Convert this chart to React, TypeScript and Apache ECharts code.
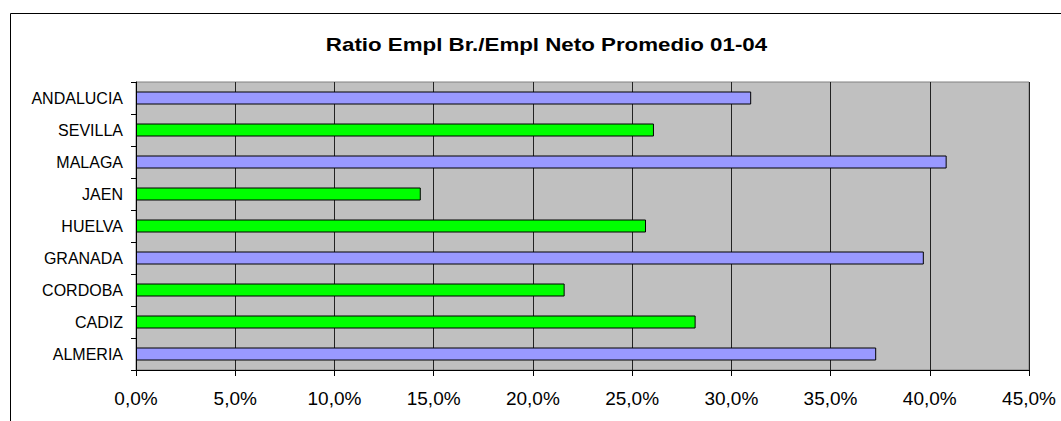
import React, { useEffect, useRef } from "react";
import * as echarts from "echarts";

const categories = ["ANDALUCIA", "SEVILLA", "MALAGA", "JAEN", "HUELVA", "GRANADA", "CORDOBA", "CADIZ", "ALMERIA"];
const values = [31.0, 26.1, 40.85, 14.35, 25.7, 39.7, 21.6, 28.2, 37.3];
const barColors = ["#9999FF", "#00FF00", "#9999FF", "#00FF00", "#00FF00", "#9999FF", "#00FF00", "#00FF00", "#9999FF"];
const titleText = "Ratio Empl Br./Empl Neto Promedio 01-04";
const xMin = 0;
const xMax = 45;
const xInterval = 5;

export default function App() {
  const ref = useRef<HTMLDivElement>(null);
  useEffect(() => {
    if (!ref.current) return;
    const chart = echarts.init(ref.current, null, { renderer: "svg" });
    chart.setOption({
      animation: false,
      backgroundColor: "#ffffff",
      graphic: [
        {
          type: "rect",
          shape: { x: 10.5, y: 13.5, width: 1200, height: 600 },
          style: { fill: "none", stroke: "#000000", lineWidth: 1 },
          silent: true,
          z: -10,
        },
        {
          type: "text",
          x: 546.5,
          y: 44.5,
          scaleX: 1.2,
          style: {
            text: titleText,
            fontFamily: "Liberation Sans",
            fontWeight: "bold",
            fontSize: 18.6,
            fill: "#000000",
            align: "center",
            verticalAlign: "middle",
          },
        },
      ],
      grid: {
        left: 136,
        top: 82,
        width: 893,
        height: 288,
        show: true,
        backgroundColor: "#C0C0C0",
        borderColor: "#808080",
        borderWidth: 1,
      },
      xAxis: {
        type: "value",
        min: xMin,
        max: xMax,
        interval: xInterval,
        axisLine: { show: true, lineStyle: { color: "#000000", width: 1 } },
        axisTick: { show: true, length: 6, lineStyle: { color: "#000000" } },
        splitLine: { show: true, lineStyle: { color: "#222222", width: 1 } },
        axisLabel: {
          margin: 19,
          color: "#000000",
          fontFamily: "Liberation Sans",
          fontSize: 19,
          formatter: (v: number) => v.toFixed(1).replace(".", ",") + "%",
        },
      },
      yAxis: {
        type: "category",
        data: categories,
        inverse: true,
        axisLine: { show: true, lineStyle: { color: "#000000", width: 1 } },
        axisTick: { show: true, length: 5, lineStyle: { color: "#000000" } },
        splitLine: { show: false },
        axisLabel: {
          margin: 13,
          color: "#000000",
          fontFamily: "Liberation Sans",
          fontSize: 16,
          padding: [0, 0, 3, 0],
        },
      },
      series: [
        {
          type: "bar",
          barWidth: 13,
          data: values.map((v, i) => ({
            value: v,
            itemStyle: { color: barColors[i], borderColor: "#000000", borderWidth: 1 },
          })),
        },
      ],
    });
    return () => chart.dispose();
  }, []);
  return (
    <div
      ref={ref}
      style={{ position: "fixed", left: 0, top: 0, width: 1061, height: 421 }}
    />
  );
}
